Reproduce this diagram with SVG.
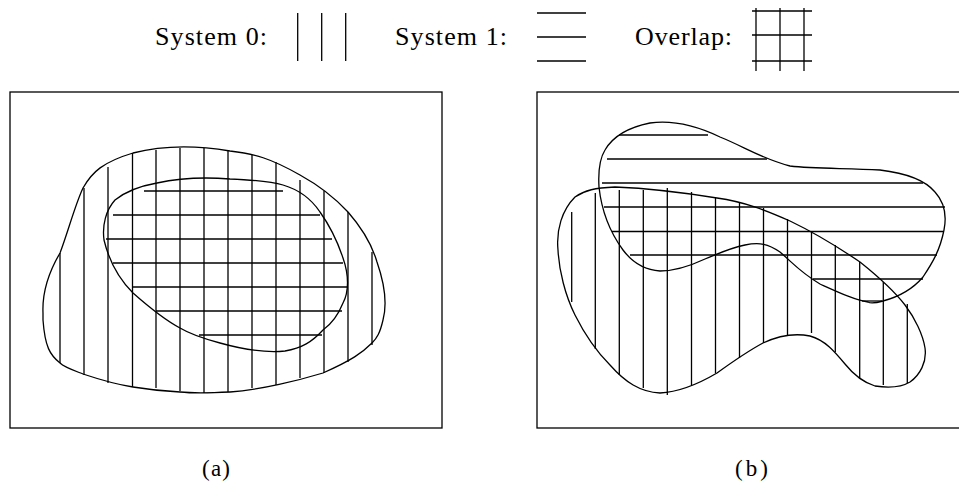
<svg xmlns="http://www.w3.org/2000/svg" width="959" height="483" viewBox="0 0 959 483">
<style>
.s{fill:none;stroke:#000;stroke-width:1.3}
.t{font-family:"Liberation Serif","Times New Roman",serif;font-size:26px;fill:#000}
.c{font-family:"Liberation Serif","Times New Roman",serif;font-size:23px;fill:#000}
</style>
<rect width="959" height="483" fill="#fff"/>
<g id="legend">
<text class="t" x="155" y="45" textLength="112" lengthAdjust="spacing">System 0:</text>
<g class="s">
<line x1="297.7" y1="13" x2="297.7" y2="61"/>
<line x1="321.7" y1="13" x2="321.7" y2="61"/>
<line x1="345.7" y1="13" x2="345.7" y2="61"/>
</g>
<text class="t" x="395" y="45" textLength="112" lengthAdjust="spacing">System 1:</text>
<g class="s">
<line x1="537" y1="13" x2="586" y2="13"/>
<line x1="537" y1="37" x2="586" y2="37"/>
<line x1="537" y1="61" x2="586" y2="61"/>
</g>
<text class="t" x="635" y="45" textLength="97" lengthAdjust="spacing">Overlap:</text>
<g class="s">
<line x1="756" y1="8" x2="756" y2="71"/>
<line x1="780" y1="8" x2="780" y2="71"/>
<line x1="804" y1="8" x2="804" y2="71"/>
<line x1="752" y1="11" x2="812" y2="11"/>
<line x1="752" y1="35" x2="812" y2="35"/>
<line x1="752" y1="61" x2="812" y2="61"/>
</g>
</g>
<g id="panel-a">
<rect class="s" x="10" y="92" width="432" height="336"/>
<path id="a-outer" class="s" d="M43,313 C42,290 50,270 60,253 C68,232 75,205 83,188 C92,172 103,162 133,153 C160,146 195,145 230,151 C255,154 270,158 300,175 C320,186 335,198 348,212 C362,228 372,245 377,262 C385,285 387,305 383,320 C380,333 377,338 372,343 C362,353 352,360 323,373 C300,380 260,390 230,392 C210,393 190,393 180,392 C160,391 145,389 133,387 C120,385 110,383 83,374 C70,369 64,367 60,363 C50,355 45,347 43,320 Z"/>
<path id="a-inner" class="s" d="M104,240 C102,225 106,210 115,200 C125,192 140,186 157,183 C180,178 205,177 230,179 C255,180 270,181 283,185 C300,190 312,200 320,212 C330,226 337,240 343,258 C349,275 349,292 343,303 C337,318 330,325 323,330 C312,342 302,348 285,351 C265,353 245,350 220,343 C205,339 190,334 180,328 C165,320 150,308 133,293 C120,280 110,265 104,240 Z"/>
<g id="a-sys0" class="s">
<line x1="60" y1="253" x2="60" y2="363"/>
<line x1="84" y1="188" x2="84" y2="375"/>
<line x1="108" y1="167" x2="108" y2="383"/>
<line x1="132.5" y1="153" x2="132.5" y2="387"/>
<line x1="156" y1="150" x2="156" y2="388"/>
<line x1="180" y1="148" x2="180" y2="391"/>
<line x1="204" y1="148" x2="204" y2="393"/>
<line x1="228" y1="151" x2="228" y2="392"/>
<line x1="252" y1="155" x2="252" y2="388"/>
<line x1="276" y1="162" x2="276" y2="385"/>
<line x1="300" y1="180" x2="300" y2="378"/>
<line x1="324" y1="191" x2="324" y2="373"/>
<line x1="348" y1="212" x2="348" y2="362"/>
<line x1="372" y1="252" x2="372" y2="345"/>
</g>
<g id="a-sys1" class="s">
<line x1="144" y1="191" x2="283" y2="191"/>
<line x1="113" y1="215" x2="320" y2="215"/>
<line x1="106" y1="239" x2="332" y2="239"/>
<line x1="113" y1="263" x2="343" y2="263"/>
<line x1="133" y1="287" x2="348" y2="287"/>
<line x1="156" y1="311" x2="342" y2="311"/>
<line x1="199" y1="335" x2="322" y2="335"/>
</g>
</g>
<g id="panel-b">
<rect class="s" x="537" y="92" width="440" height="336"/>
<path id="b-sys1-region" class="s" d="M599,187 C598,170 600,158 605,150 C612,138 625,128 650,123 C672,120 695,125 720,137 C745,147 760,158 790,166 C815,169 845,168 880,170 C905,173 925,180 935,192 C945,203 947,215 944,230 C940,250 933,262 923,277 C912,290 898,297 883,301 C876,303 871,304 868,302 C855,300 840,293 820,284 C800,272 795,265 780,252 C768,244 760,242 745,245 C730,248 720,253 705,259 C690,266 675,271 660,271 C645,270 632,262 623,250 C612,235 602,215 599,187 Z"/>
<path id="b-sys0-region" class="s" d="M558,250 C556,230 562,210 575,197 C585,190 595,188 615,187 C640,188 680,192 717,198 C745,202 765,210 790,221 C815,233 835,245 860,262 C880,278 895,292 905,305 C915,318 923,335 925,348 C927,362 920,375 910,382 C900,388 888,388 875,386 C862,382 853,374 845,364 C835,352 825,340 810,336 C795,333 780,335 763,343 C750,350 735,360 717,373 C700,383 680,392 660,393 C640,392 625,382 610,365 C595,350 585,335 575,315 C565,295 559,270 558,250 Z"/>
<g id="b-sys0" class="s">
<line x1="571.7" y1="212" x2="571.7" y2="302"/>
<line x1="595.3" y1="193" x2="595.3" y2="349"/>
<line x1="619.3" y1="190" x2="619.3" y2="375"/>
<line x1="643.3" y1="190" x2="643.3" y2="388"/>
<line x1="667.3" y1="188" x2="667.3" y2="395"/>
<line x1="691.5" y1="192" x2="691.5" y2="385"/>
<line x1="715.5" y1="198" x2="715.5" y2="373"/>
<line x1="739.5" y1="202" x2="739.5" y2="358"/>
<line x1="763.5" y1="208" x2="763.5" y2="343"/>
<line x1="787.5" y1="219" x2="787.5" y2="335"/>
<line x1="811.5" y1="232" x2="811.5" y2="333"/>
<line x1="835.3" y1="245" x2="835.3" y2="352"/>
<line x1="859.7" y1="262" x2="859.7" y2="378"/>
<line x1="883.3" y1="282" x2="883.3" y2="385"/>
<line x1="907.3" y1="304" x2="907.3" y2="383"/>
</g>
<g id="b-sys1" class="s">
<line x1="619" y1="135" x2="708" y2="135"/>
<line x1="607" y1="159" x2="767" y2="159"/>
<line x1="602" y1="183" x2="923" y2="183"/>
<line x1="604" y1="207" x2="945" y2="207"/>
<line x1="612" y1="231.5" x2="943" y2="231.5"/>
<line x1="630" y1="255" x2="937" y2="255"/>
<line x1="813" y1="279" x2="923" y2="279"/>
<line x1="862" y1="301" x2="882" y2="301"/>
</g>
</g>
<g id="captions">
<text class="c" x="202" y="476" textLength="28" lengthAdjust="spacing">(a)</text>
<text class="c" x="735" y="476" textLength="33" lengthAdjust="spacing">(b)</text>
</g>
</svg>
